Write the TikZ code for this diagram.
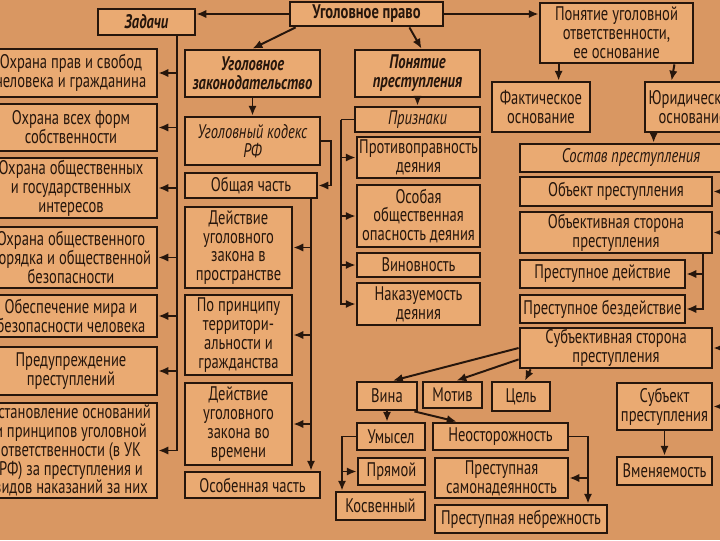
\documentclass[tikz,border=0pt]{standalone}
\usepackage{fontspec}
\setmainfont{PT Sans}[FakeStretch=0.74]
\usetikzlibrary{arrows.meta,calc}
\definecolor{bgc}{RGB}{217,151,98}
\definecolor{boxc}{RGB}{234,170,114}
\definecolor{ink}{RGB}{38,22,12}
\tikzset{
  tbox/.style={draw=ink,fill=boxc,line width=2pt,inner sep=1pt,align=center,text=ink,
    font=\fontsize{14}{13.4}\selectfont},
  hd/.style={font=\fontsize{14}{13.4}\selectfont\bfseries\itshape},
  hdb/.style={font=\fontsize{14}{13.4}\selectfont\bfseries},
  ital/.style={font=\fontsize{14}{13.4}\selectfont\itshape},
  ln/.style={draw=ink,line width=1.4pt},
  arr/.style={ln,-{Latex[length=7pt,width=6pt]}}
}
% box from (x1,y1) to (x2,y2), pixel units
\newcommand{\bx}[7][]{\node[tbox,#1,minimum width={((#5)-(#3))*0.025cm},
  minimum height={((#6)-(#4))*0.025cm}] (#2) at ({((#3)+(#5))/2},{((#4)+(#6))/2}) {#7};}

\begin{document}
\begin{tikzpicture}[x=0.025cm,y=-0.025cm]

\useasboundingbox (0,0) rectangle (720,540);
\fill[bgc] (0,0) rectangle (720,540);

\bx[hdb]{top}{290}{2}{443}{26}{Уголовное право}
\bx[hd]{zad}{98}{9}{195}{35}{Задачи}

% задачи
\bx{l1}{-15}{49}{157}{97}{Охрана прав и свобод\\человека и гражданина}
\bx{l2}{-15}{104}{157}{151}{Охрана всех форм\\собственности}
\bx{l3}{-15}{158}{157}{218}{Охрана общественных\\и государственных\\интересов}
\bx{l4}{-15}{227}{157}{288}{Охрана общественного\\порядка и общественной\\безопасности}
\bx{l5}{-15}{295}{157}{337}{Обеспечение мира и\\безопасности человека}
\bx{l6}{-15}{347}{157}{395}{Предупреждение\\преступлений}
\bx{l7}{-15}{403}{157}{498}{Установление оснований\\и принципов уголовной\\ответственности (в УК\\РФ) за преступления и\\видов наказаний за них}

% законодательство
\bx[hd]{zak}{185}{50}{320}{97}{Уголовное\\законодательство}
\bx[ital]{uk}{185}{117}{320}{165}{Уголовный кодекс\\РФ}
\bx{ob}{185}{173}{317}{198}{Общая часть}
\bx{d1}{185}{207}{292}{288}{Действие\\уголовного\\закона в\\пространстве}
\bx{d2}{185}{295}{292}{375}{По принципу\\территори-\\альности и\\гражданства}
\bx{d3}{185}{383}{292}{465}{Действие\\уголовного\\закона во\\времени}
\bx{osob}{185}{472}{320}{498}{Особенная часть}

% преступление
\bx[hd]{pon}{355}{50}{480}{97}{Понятие\\преступления}
\bx[ital]{priz}{355}{107}{480}{132}{Признаки}
\bx{p1}{357}{137}{480}{178}{Противоправность\\деяния}
\bx{p2}{357}{185}{480}{247}{Особая\\общественная\\опасность деяния}
\bx{p3}{357}{253}{480}{277}{Виновность}
\bx{p4}{357}{283}{480}{325}{Наказуемость\\деяния}

% ответственность
\bx{otv}{540}{3}{693}{63}{Понятие уголовной\\ответственности,\\ее основание}
\bx{fakt}{492}{82}{590}{132}{Фактическое\\основание}
\bx{jur}{645}{82}{740}{132}{Юридическое\\основание}
\bx[ital]{sost}{520}{144}{742}{172}{Состав преступления}
\bx{obj}{520}{177}{712}{206}{Объект преступления}
\bx{objs}{520}{212}{712}{253}{Объективная сторона\\преступления}
\bx{dei}{520}{260}{685}{288}{Преступное действие}
\bx{bez}{520}{295}{685}{323}{Преступное бездействие}
\bx{subs}{520}{328}{712}{368}{Субъективная сторона\\преступления}
\bx{vina}{357}{382}{417}{410}{Вина}
\bx{motiv}{423}{382}{482}{408}{Мотив}
\bx{cel}{492}{382}{550}{411}{Цель}
\bx{umy}{357}{423}{425}{450}{Умысел}
\bx{neo}{433}{423}{568}{450}{Неосторожность}
\bx{pr}{358}{458}{425}{485}{Прямой}
\bx{kos}{336}{492}{425}{520}{Косвенный}
\bx{sam}{435}{458}{568}{498}{Преступная\\самонадеянность}
\bx{neb}{435}{505}{607}{533}{Преступная небрежность}
\bx{subj}{617}{383}{712}{430}{Субъект\\преступления}
\bx{vmen}{617}{457}{712}{485}{Вменяемость}

\draw[arr] (top.west) -- (top.west -| zad.east);
\draw[arr] (top.east) -- (top.east -| otv.west);
\draw[arr] ($(top.south west)+(7,0)$) -- (zak.north);
\draw[arr] ($(top.south east)+(-35,0)$) -- ($(pon.north)+(4,0)$);

\coordinate (zl) at (177,35);
\foreach \n in {l1,l2,l3,l4,l5,l6,l7} \draw[arr] (zl) |- (\n.east);

\draw[arr] (zak.south) -- (uk.north);
\draw[arr] (uk.east) -- ++(10,0) |- (ob.east);
\coordinate (gl) at (311,198);
\foreach \n in {d1,d2,d3} \draw[arr] (gl) |- (\n.east);
\draw[arr] (gl) -- (gl |- osob.north);

\draw[arr] (pon.south) -- (priz.north);
\coordinate (pl) at (341,119.5);
\draw[ln] (priz.west) -- (pl);
\foreach \n in {p1,p2,p3,p4} \draw[arr] (pl) |- (\n.west);

\draw[arr] ($(otv.south west)+(20,0)$) -- ($(fakt.north west)+(68,0)$);
\draw[arr] ($(otv.south east)+(-20,0)$) -- ($(jur.north west)+(28,0)$);
\draw[arr] ($(jur.south west)+(10,0)$) -- ($(sost.north west)+(135,0)$);
\coordinate (rl) at (722,172);
\foreach \n in {obj,objs,subs,subj} \draw[arr] (rl) |- (\n.east);
\coordinate (sl) at (703,253);
\foreach \n in {dei,bez} \draw[arr] (sl) |- (\n.east);

% субъективная сторона
\draw[arr] (subs.west) -- ($(vina.north)+(6,0)$);
\draw[arr] ($(subs.south west)+(0,-10)$) -- ($(motiv.north)+(4,0)$);
\draw[arr] ($(subs.south west)+(12,0)$) -- ($(cel.north)+(4,0)$);
\draw[arr] (vina.south) -- (vina.south |- umy.north);
\draw[arr] ($(vina.south east)+(-4,0)$) -- ($(neo.north west)+(25,0)$);
\coordinate (ul) at (342,0);
\draw[arr] (umy.west) -| (ul |- kos.north);
\draw[arr] (ul |- pr.west) -- (pr.west);
\coordinate (nl) at (588,0);
\draw[arr] (neo.east) -| (nl |- neb.north);
\draw[arr] (nl |- sam.east) -- (sam.east);
\draw[arr] (subj.south) -- (vmen.north);

\end{tikzpicture}
\end{document}
